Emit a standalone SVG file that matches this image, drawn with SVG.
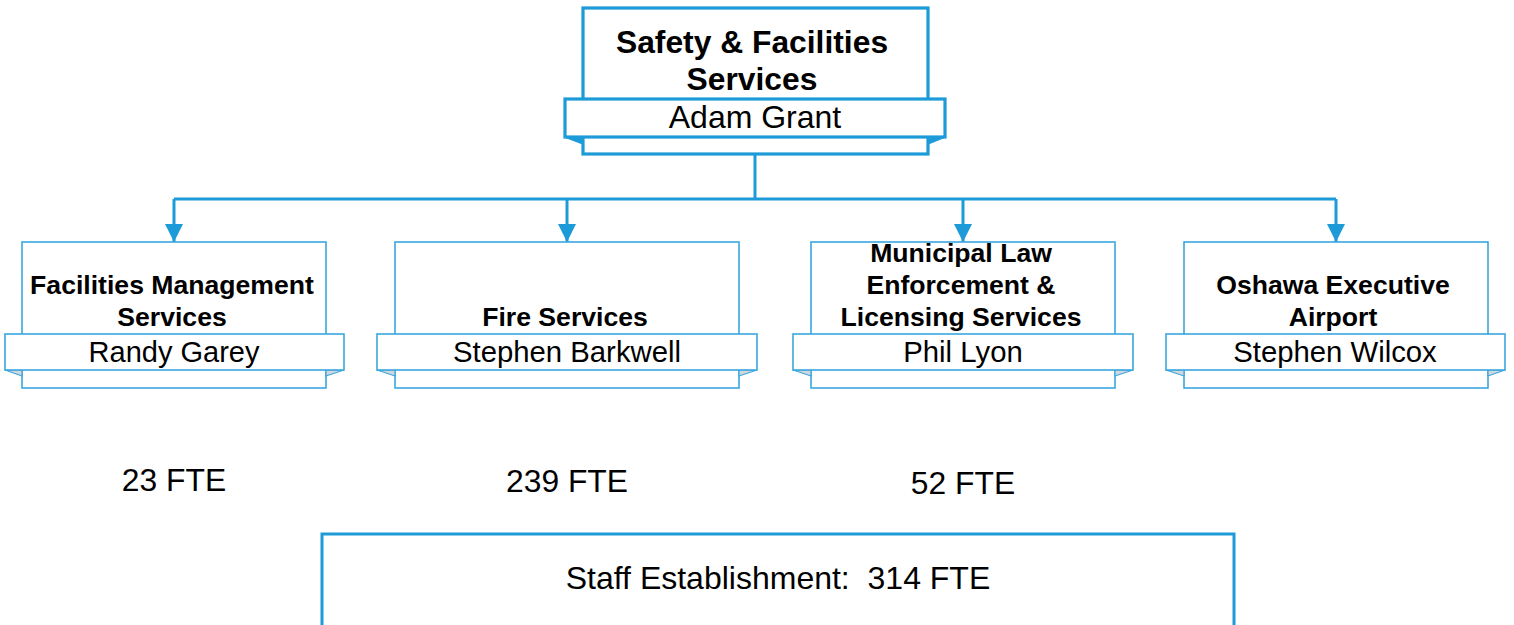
<svg xmlns="http://www.w3.org/2000/svg" width="1514" height="625" viewBox="0 0 1514 625">
  <defs>
    <style>
      .outer { fill: #ffffff; stroke: #3aa7df; stroke-width: 1.6; }
      .band { fill: #ffffff; stroke: #3aa7df; stroke-width: 1.6; }
      .fold { fill: #d3d6da; stroke: #3aa7df; stroke-width: 1.2; }
      .top-outer, .top-band { fill: #ffffff; stroke: #1c9bd8; stroke-width: 3.2; }
      .top-fold { fill: #1c9bd8; stroke: #1c9bd8; stroke-width: 1.5; }
      .title { font-family: "Liberation Sans", Arial, sans-serif; font-weight: bold; fill: #000; text-anchor: middle; }
      .name { font-family: "Liberation Sans", Arial, sans-serif; fill: #000; text-anchor: middle; }
      .fte { font-family: "Liberation Sans", Arial, sans-serif; font-size: 31.8px; fill: #000; text-anchor: middle; }
      .conn { fill: none; stroke: #1c9bd8; stroke-width: 3; }
    </style>
    <marker id="arrow" viewBox="0 0 10 10" refX="10" refY="5" markerWidth="6" markerHeight="6" markerUnits="strokeWidth" orient="auto">
      <path d="M0,0 L10,5 L0,10 Z" fill="#1c9bd8"/>
    </marker>
  </defs>

  <!-- connectors -->
  <g id="connectors">
    <path class="conn" d="M755,155 V199"/>
    <path class="conn" d="M174,199 H1336"/>
    <path class="conn" d="M174,199 V242" marker-end="url(#arrow)"/>
    <path class="conn" d="M567,199 V242" marker-end="url(#arrow)"/>
    <path class="conn" d="M963,199 V242" marker-end="url(#arrow)"/>
    <path class="conn" d="M1336,199 V242" marker-end="url(#arrow)"/>
  </g>

  <!-- head of division -->
  <g id="node-safety">
    <rect class="top-outer" x="583" y="8" width="345" height="146"/>
    <polygon class="top-fold" points="565,137 583,137 583,144"/>
    <polygon class="top-fold" points="945,137 928,137 928,144"/>
    <rect class="top-band" x="565" y="99" width="380" height="38"/>
    <text class="title" font-size="31.8" x="752" y="53">Safety &amp; Facilities</text>
    <text class="title" font-size="31.8" x="752" y="90">Services</text>
    <text class="name" font-size="32" x="755" y="128">Adam Grant</text>
  </g>

  <!-- branches -->
  <g id="node-facilities">
    <rect class="outer" x="22" y="242" width="304" height="146"/>
    <polygon class="fold" points="5,370 22,370 22,376"/>
    <polygon class="fold" points="344,370 326,370 326,376"/>
    <rect class="band" x="5" y="334" width="339" height="36"/>
    <text class="title" font-size="26.6" x="172" y="294">Facilities Management</text>
    <text class="title" font-size="26.6" x="172" y="326">Services</text>
    <text class="name" font-size="29" x="174" y="362">Randy Garey</text>
  </g>

  <g id="node-fire">
    <rect class="outer" x="395" y="242" width="344" height="146"/>
    <polygon class="fold" points="377,370 395,370 395,376"/>
    <polygon class="fold" points="757,370 739,370 739,376"/>
    <rect class="band" x="377" y="334" width="380" height="36"/>
    <text class="title" font-size="26.6" x="565" y="326">Fire Services</text>
    <text class="name" font-size="29.3" x="567" y="362">Stephen Barkwell</text>
  </g>

  <g id="node-mle">
    <rect class="outer" x="811" y="242" width="304" height="146"/>
    <polygon class="fold" points="793,370 811,370 811,376"/>
    <polygon class="fold" points="1133,370 1115,370 1115,376"/>
    <rect class="band" x="793" y="334" width="340" height="36"/>
    <text class="title" font-size="26.6" x="961" y="262">Municipal Law</text>
    <text class="title" font-size="26.6" x="961" y="294">Enforcement &amp;</text>
    <text class="title" font-size="26.6" x="961" y="326">Licensing Services</text>
    <text class="name" font-size="29.3" x="963" y="362">Phil Lyon</text>
  </g>

  <g id="node-airport">
    <rect class="outer" x="1184" y="242" width="304" height="146"/>
    <polygon class="fold" points="1166,370 1184,370 1184,376"/>
    <polygon class="fold" points="1505,370 1488,370 1488,376"/>
    <rect class="band" x="1166" y="334" width="339" height="36"/>
    <text class="title" font-size="26.6" x="1333" y="294">Oshawa Executive</text>
    <text class="title" font-size="26.6" x="1333" y="326">Airport</text>
    <text class="name" font-size="29.3" x="1335" y="362">Stephen Wilcox</text>
  </g>

  <!-- headcounts -->
  <g id="fte-counts">
    <text class="fte" x="174" y="491">23 FTE</text>
    <text class="fte" x="567" y="492">239 FTE</text>
    <text class="fte" x="963" y="494">52 FTE</text>
  </g>

  <g id="node-total">
    <rect x="322" y="534" width="912" height="96" fill="#ffffff" stroke="#1c9bd8" stroke-width="3"/>
    <text class="name" font-size="32" x="778" y="589" xml:space="preserve" style="white-space: pre">Staff Establishment:  314 FTE</text>
  </g>
</svg>
